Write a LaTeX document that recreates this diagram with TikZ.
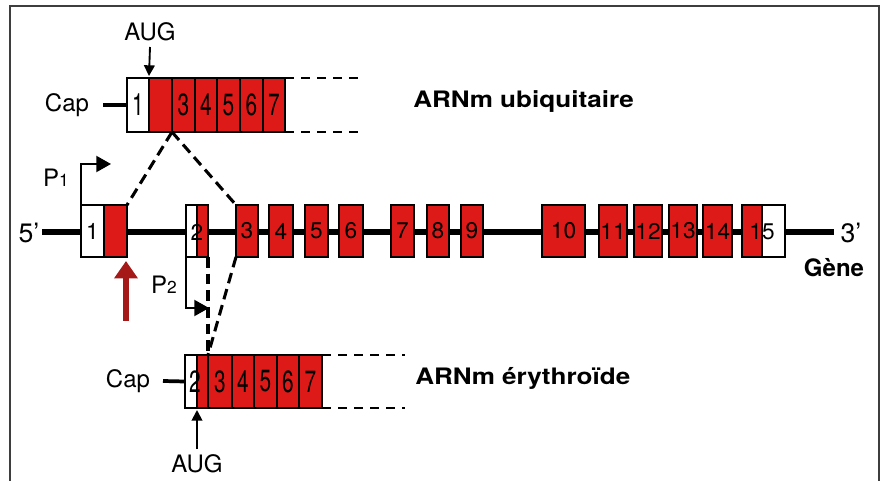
\documentclass[tikz,border=0pt]{standalone}
\usepackage{fontspec}
\setmainfont{TeX Gyre Heros}
\usetikzlibrary{arrows.meta,fit}
\definecolor{exred}{RGB}{222,26,24}
\definecolor{arrred}{RGB}{165,25,25}
\definecolor{framegray}{RGB}{62,62,62}
\tikzset{
  box/.style={draw=black, line width=1.1pt, inner sep=0pt, outer sep=0pt},
  exon/.style={box, fill=exred},
  utr/.style={box, fill=white},
  gnum/.style={font=\fontsize{17}{17}\selectfont, inner sep=0pt},
  mnum/.style={font=\fontsize{23}{23}\selectfont, inner sep=0pt, xscale=0.68},
  txt/.style={font=\fontsize{18}{18}\selectfont, inner sep=0pt},
  btxt/.style={font=\bfseries\fontsize{17}{17}\selectfont, inner sep=0pt, xscale=1.15},
  geneline/.style={line width=4.2pt, black},
  capline/.style={line width=2.8pt, black},
  vdash/.style={line width=2.3pt, dash pattern=on 8pt off 4.5pt},
  extdash/.style={line width=1.4pt, dash pattern=on 7pt off 5pt},
  promo/.style={line width=1.5pt, -{Triangle[length=11pt,width=12pt]}},
  augarrow/.style={line width=1.4pt, -{Triangle[length=8pt,width=8pt]}},
  redarrow/.style={line width=3.8pt, arrred, -{Triangle[length=13pt,width=17pt]}},
  frameline/.style={line width=1.8pt, framegray}
}
\newcommand\gbox[4]{\node[#1, fit={(#2,205) (#3,257)}] (#4) {};}
\newcommand\ubox[4]{\node[#1, fit={(#2,78) (#3,132)}] (#4) {};}
\newcommand\lbox[4]{\node[#1, fit={(#2,355) (#3,408)}] (#4) {};}
\begin{document}
\begin{tikzpicture}[x=0.75pt,y=-0.75pt]
\useasboundingbox (0,0) rectangle (883,481);
% frame
\draw[frameline] (10,481) -- (10,6) -- (879,6) -- (879,481);

% gene line
\coordinate (gs) at (42,232);
\coordinate (ge) at (834,232);
\draw[geneline] (gs) -- (ge);
\node[txt, font=\fontsize{20}{20}\selectfont] (five) at (29,233) {5'};
\node[txt, font=\fontsize{20}{20}\selectfont] (three) at (851,233) {3'};
\node[txt, font=\bfseries\fontsize{18}{18}\selectfont] (gene) at (834,268) {Gène};

% gene exons
\gbox{utr}{81}{104}{g1w}
\gbox{exon}{104}{127}{g1r}
\gbox{utr}{186}{197}{g2w}
\gbox{exon}{197}{208}{g2r}
\gbox{exon}{236}{258}{g3}
\gbox{exon}{269}{293}{g4}
\gbox{exon}{305}{328}{g5}
\gbox{exon}{339}{363}{g6}
\gbox{exon}{391}{414}{g7}
\gbox{exon}{427}{449}{g8}
\gbox{exon}{461}{483}{g9}
\gbox{exon}{542}{585}{g10}
\gbox{exon}{599}{627}{g11}
\gbox{exon}{634}{662}{g12}
\gbox{exon}{669}{697}{g13}
\gbox{exon}{703}{732}{g14}
\gbox{exon}{742}{762}{g15r}
\gbox{utr}{762}{785}{g15w}
\node[gnum] (n1) at (g1w) {1};
\node[gnum] (n2) at (197,232) {2};
\foreach \k in {3,...,14} {\node[gnum] (n\k) at (g\k) {\k};}
\node[gnum] (n15) at (762,232) {15};

% ubiquitous mRNA
\ubox{utr}{127}{149}{u1}
\ubox{exon}{149}{172}{u2}
\ubox{exon}{172}{195}{u3}
\ubox{exon}{195}{217}{u4}
\ubox{exon}{217}{240}{u5}
\ubox{exon}{240}{263}{u6}
\ubox{exon}{263}{285}{u7}
\node[mnum] (un1) at (u1) {1};
\foreach \k in {3,...,7} {\node[mnum] (un\k) at (u\k) {\k};}
\coordinate (ut) at (358,78);
\coordinate (ub) at (358,132);
\draw[extdash] (u7.north east) -- (ut);
\draw[extdash] (u7.south east) -- (ub);
\node[txt] (capu) at (67,105) {Cap};
\coordinate (capuc) at (103,105);
\draw[capline] (capuc) -- (u1.west);
\node[txt] (augu) at (150,32) {AUG};
\coordinate (auguc) at (150,47);
\draw[augarrow] (auguc) -- ([yshift=1.5pt]u1.north east);
\node[btxt, anchor=west] (ubiq) at (413,102) {ARNm ubiquitaire};

% erythroid mRNA
\lbox{utr}{185}{197}{l1}
\lbox{exon}{197}{208}{l2}
\lbox{exon}{208}{232}{l3}
\lbox{exon}{232}{254}{l4}
\lbox{exon}{254}{277}{l5}
\lbox{exon}{277}{299}{l6}
\lbox{exon}{299}{322}{l7}
\node[mnum] (ln2) at (195,381.5) {2};
\foreach \k in {3,...,7} {\node[mnum] (ln\k) at (l\k) {\k};}
\coordinate (lt) at (405,355);
\coordinate (lb) at (405,408);
\draw[extdash] (l7.north east) -- (lt);
\draw[extdash] (l7.south east) -- (lb);
\node[txt] (capl) at (128,381) {Cap};
\coordinate (caplc) at (163,381);
\draw[capline] (caplc) -- (l1.west);
\node[txt] (augl) at (197,464) {AUG};
\coordinate (auglc) at (197,449);
\draw[augarrow] (auglc) -- ([yshift=-1.5pt]l1.south east);
\node[btxt, anchor=west] (eryth) at (415,378) {ARNm érythroïde};

% splicing dashes
\draw[vdash] (u2.south east) -- (g1r.north east);
\draw[vdash] (u2.south east) -- (g3.north west);
\draw[vdash] (g2r.south east) -- (l3.north west);
\draw[vdash] (g3.south west) -- (l3.north west);

% promoters
\coordinate (p1c) at (111,164);
\draw[promo] (g1w.north west) |- (p1c);
\node[txt] (p1) at (56,178) {P{\fontsize{13}{13}\selectfont 1}};
\coordinate (p2c) at (209,308);
\draw[promo] (g2w.south west) |- (p2c);
\node[txt] (p2) at (164,285) {P{\fontsize{13}{13}\selectfont 2}};

% red arrow
\coordinate (ra0) at (126,321);
\coordinate (ra1) at (126,261);
\draw[redarrow] (ra0) -- (ra1);
\end{tikzpicture}
\end{document}
